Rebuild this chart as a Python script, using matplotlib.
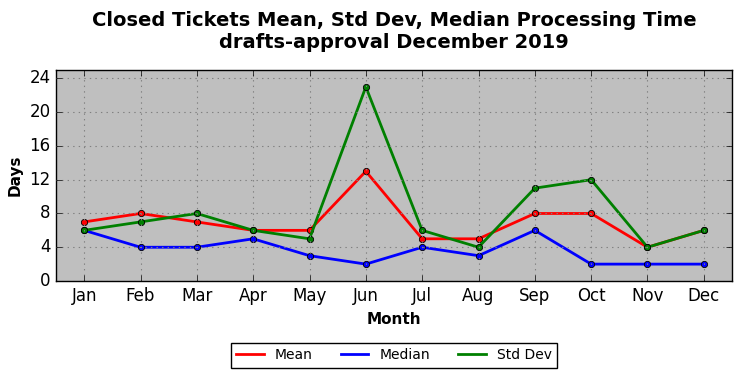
import matplotlib
matplotlib.use("Agg")
import matplotlib.pyplot as plt

plt.style.use('classic')

months = ["Jan", "Feb", "Mar", "Apr", "May", "Jun", "Jul", "Aug", "Sep", "Oct", "Nov", "Dec"]
mean_vals = [7, 8, 7, 6, 6, 13, 5, 5, 8, 8, 4, 6]
median_vals = [6, 4, 4, 5, 3, 2, 4, 3, 6, 2, 2, 2]
std_vals = [6, 7, 8, 6, 5, 23, 6, 4, 11, 12, 4, 6]
yticks = [0, 4, 8, 12, 16, 20, 24]

fig = plt.figure(figsize=(7.42, 3.78), dpi=100, facecolor='white')
ax = fig.add_axes([56/742, 1 - 281/378, (732-56)/742, (281-70)/378])
ax.set_facecolor('#bfbfbf')
x = list(range(len(months)))
ax.plot(x, mean_vals, color='red', lw=2, marker='o', ms=4.5, mec='black', mew=0.6, label='Mean')
ax.plot(x, median_vals, color='blue', lw=2, marker='o', ms=4.5, mec='black', mew=0.6, label='Median')
ax.plot(x, std_vals, color='green', lw=2, marker='o', ms=4.5, mec='black', mew=0.6, label='Std Dev')
ax.set_xlim(-0.5, len(months) - 0.5)
ax.set_ylim(0, 25)
ax.set_xticks(x)
ax.set_xticklabels(months, fontsize=12)
ax.set_yticks(yticks)
ax.set_yticklabels([str(v) for v in yticks], fontsize=12)
ax.grid(True, color='#808080', linestyle=':', linewidth=0.8)
ax.set_xlabel('Month', fontsize=11, fontweight='bold')
ax.set_ylabel('Days', fontsize=11, fontweight='bold')
ax.set_title('Closed Tickets Mean, Std Dev, Median Processing Time\ndrafts-approval December 2019',
             fontsize=14, fontweight='bold', y=1.0, pad=16)
leg = ax.legend(loc='upper center', bbox_to_anchor=(0.5, -0.26), ncol=3, fontsize=10,
                frameon=True, fancybox=False, numpoints=1, markerscale=0)
for h in leg.get_lines():
    h.set_marker('')
fig.savefig('out.png', dpi=100, facecolor='white')
